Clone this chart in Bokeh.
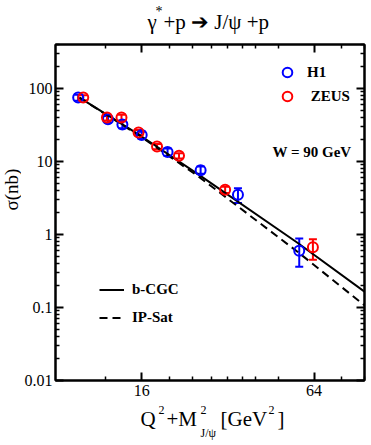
import math
from bokeh.plotting import figure
from bokeh.layouts import column, row
from bokeh.models import (ColumnDataSource, Whisker, TeeHead, Label, LogAxis,
                          FixedTicker, Legend, LegendItem)
from bokeh.embed import file_html
from bokeh.resources import INLINE

# ---------------- data ----------------
h1_x = [9.6, 12.2, 13.7, 16.0, 19.7, 25.7, 34.7, 56.8]
h1_y = [75, 38, 32, 23, 13.5, 7.6, 3.5, 0.60]
h1_lo = [68, 34, 28.5, 20.5, 12.0, 6.8, 2.7, 0.36]
h1_hi = [82, 42, 35.5, 25.5, 15.0, 8.5, 4.3, 0.88]

zeus_x = [10.0, 12.1, 13.6, 15.6, 18.1, 21.6, 31.3, 63.4]
zeus_y = [75, 40, 40, 25, 16, 12, 4.1, 0.67]
zeus_lo = [69, 36.5, 36.5, 23, 14.7, 11, 3.7, 0.45]
zeus_hi = [81, 43.5, 43.5, 27, 17.3, 13, 4.5, 0.86]

cgc_x = [9.7, 16, 25.3, 56, 96]
cgc_y = [75, 22, 6.6, 0.77, 0.165]
ips_x = [9.7, 16, 25.3, 56, 96]
ips_y = [75, 21.5, 6.2, 0.58, 0.107]

x_major = [16, 64]
x_minor = [12, 20, 24, 28, 32, 36, 40, 48, 80, 96]
y_major = [0.01, 0.1, 1, 10, 100]
y_minor = [m * d for d in [0.01, 0.1, 1, 10, 100] for m in range(2, 10) if m * d <= 400]
y_labels = {0.01: "0.01", 0.1: "0.1", 1: "1", 10: "10", 100: "100"}
x_labels = {16: "16", 64: "64"}

SERIF = "Liberation Serif"

# page layout (pixels): title strip 0..34, main figure 34..403, x-label strip 403..445
TITLE_H = 34
YLAB_W = 21
B_LEFT, B_RIGHT, B_TOP, B_BOTTOM = 32, 7, 10, 23
FRAME_W, FRAME_H = 311, 336
MAIN_W = B_LEFT + FRAME_W + B_RIGHT
MAIN_H = B_TOP + FRAME_H + B_BOTTOM
XLAB_H = 445 - TITLE_H - MAIN_H

p = figure(width=MAIN_W, height=MAIN_H, x_axis_type="log", y_axis_type="log",
           x_range=(8, 96), y_range=(0.01, 400),
           output_backend="svg", toolbar_location=None,
           min_border_left=B_LEFT, min_border_right=B_RIGHT,
           min_border_top=B_TOP, min_border_bottom=B_BOTTOM)
p.xgrid.visible = False
p.ygrid.visible = False
p.outline_line_color = "black"
p.outline_line_width = 2
p.background_fill_color = "white"

def style_axis(ax, ticks, minor, labels, show_labels):
    ax.ticker = FixedTicker(ticks=ticks, minor_ticks=minor)
    ax.major_tick_in = 8
    ax.major_tick_out = 0
    ax.minor_tick_in = 4
    ax.minor_tick_out = 0
    ax.major_tick_line_width = 2
    ax.minor_tick_line_width = 1.5
    ax.axis_line_width = 2
    ax.axis_line_color = "black"
    ax.major_tick_line_color = "black"
    ax.minor_tick_line_color = "black"
    if show_labels:
        ax.major_label_overrides = labels
        ax.major_label_text_font = SERIF
        ax.major_label_text_font_size = "16px"
        ax.major_label_text_color = "black"
    else:
        ax.major_label_text_font_size = "0px"
        ax.major_label_text_color = None
        ax.major_label_standoff = 0

style_axis(p.xaxis[0], x_major, x_minor, x_labels, True)
p.xaxis[0].major_label_standoff = 4
style_axis(p.yaxis[0], y_major, y_minor, y_labels, True)
p.yaxis[0].major_label_standoff = 3

top = LogAxis()
style_axis(top, x_major, x_minor, x_labels, False)
p.add_layout(top, "above")
right = LogAxis()
style_axis(right, y_major, y_minor, y_labels, False)
p.add_layout(right, "right")

# curves
r_cgc = p.line(cgc_x, cgc_y, line_color="black", line_width=2)
r_ips = p.line(ips_x, ips_y, line_color="black", line_width=2, line_dash="8 5")

# data with error bars
h1_src = ColumnDataSource(dict(x=h1_x, y=h1_y, lo=h1_lo, hi=h1_hi))
zeus_src = ColumnDataSource(dict(x=zeus_x, y=zeus_y, lo=zeus_lo, hi=zeus_hi))
for src, col in [(h1_src, "#0000ff"), (zeus_src, "#ff0000")]:
    w = Whisker(source=src, base="x", lower="lo", upper="hi", dimension="height",
                line_color=col, line_width=2,
                upper_head=TeeHead(size=8, line_color=col, line_width=2),
                lower_head=TeeHead(size=8, line_color=col, line_width=2))
    p.add_layout(w)
r_h1 = p.scatter("x", "y", source=h1_src, marker="circle", size=10,
                 fill_color=None, line_color="#0000ff", line_width=2)
r_zeus = p.scatter("x", "y", source=zeus_src, marker="circle", size=10,
                   fill_color=None, line_color="#ff0000", line_width=2)

def make_legend(items, loc, gw, gh, spacing, standoff):
    lg = Legend(items=items, location=loc, orientation="vertical",
                glyph_width=gw, glyph_height=gh, label_height=gh, spacing=spacing,
                label_standoff=standoff, padding=0, margin=0,
                border_line_color=None, background_fill_alpha=0,
                label_text_font=SERIF, label_text_font_style="bold",
                label_text_font_size="15px", label_text_color="black")
    p.add_layout(lg)

make_legend([LegendItem(label="H1", renderers=[r_h1]),
             LegendItem(label=" ZEUS", renderers=[r_zeus])],
            (220, 272), 24, 24, -9, 8)
make_legend([LegendItem(label="b-CGC", renderers=[r_cgc]),
             LegendItem(label="IP-Sat", renderers=[r_ips])],
            (44, 54), 25, 15, 11, 8)

FL = YLAB_W + B_LEFT            # page x of frame left (53)
FB = TITLE_H + B_TOP + FRAME_H  # page y of frame bottom (380)

def lab(fig, ox, oy_bottom, text, px, py, size, style="normal", align="left", angle=0.0):
    # px, py: page pixel position of the text's vertical middle;
    # ox: page x of fig frame left; oy_bottom: page y of fig frame bottom
    fig.add_layout(Label(x=px - ox, y=oy_bottom - py, x_units="screen", y_units="screen",
                         text=text, text_font=SERIF, text_font_size=f"{size}px",
                         text_font_style=style, text_align=align, text_baseline="middle",
                         text_color="black", angle=angle))

lab(p, FL, FB, "W = 90 GeV", 270, 151, 15, style="bold")

def strip(w, h):
    f = figure(width=w, height=h, x_range=(0, 1), y_range=(0, 1),
               x_axis_location=None, y_axis_location=None,
               output_backend="svg", toolbar_location=None,
               min_border=0, outline_line_color=None)
    f.grid.visible = False
    return f

# title strip
t = strip(371, TITLE_H)
lab(t, 0, TITLE_H, "γ", 147, 21, 21)
lab(t, 0, TITLE_H, "*", 155, 11, 14)
lab(t, 0, TITLE_H, "+p ➔ J/ψ +p", 163, 21, 21)

# y label strip
yl = strip(YLAB_W, MAIN_H)
lab(yl, 0, TITLE_H + MAIN_H, "σ(nb)", 11, 212, 19, align="center", angle=math.pi / 2)

# x label strip
xl = strip(371, XLAB_H)
XB = 445
lab(xl, 0, XB, "Q", 140, 418, 21)
lab(xl, 0, XB, "2", 158, 409, 12)
lab(xl, 0, XB, "+M", 166, 418, 21)
lab(xl, 0, XB, "2", 200, 409, 12)
lab(xl, 0, XB, "J/ψ", 200, 432, 12)
lab(xl, 0, XB, "[GeV", 220, 418, 21)
lab(xl, 0, XB, "2", 268, 409, 12)
lab(xl, 0, XB, "]", 277, 418, 21)

layout = column(t, row(yl, p, spacing=0), xl, spacing=0)
open("out.html", "w").write(file_html(layout, INLINE))
